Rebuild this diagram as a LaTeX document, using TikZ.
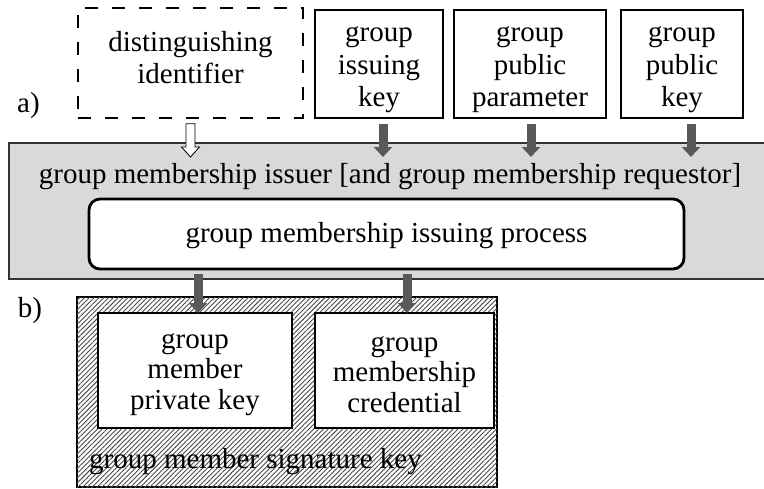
\documentclass[tikz,border=0pt]{standalone}
\usepackage{fontspec}
\setmainfont{Liberation Serif}
\usetikzlibrary{arrows.meta,patterns.meta,calc}
\definecolor{boxgray}{HTML}{D9D9D9}
\definecolor{arrowgray}{HTML}{595959}
\definecolor{hatchgray}{HTML}{4A4A4A}
\tikzset{
  txt/.style={font=\fontsize{29}{32.5}\selectfont, align=center, inner sep=0pt},
  plainbox/.style={draw=black, line width=1.3pt, fill=white, inner sep=0pt},
  dbox/.style={draw=black, line width=1.3pt, dash pattern=on 13pt off 14pt, inner sep=0pt},
  graybox/.style={draw=black!80, line width=1.2pt, fill=boxgray, inner sep=0pt},
  procbox/.style={draw=black, line width=2.8pt, fill=white, rounded corners=11pt, inner sep=0pt,
    align=center, font=\fontsize{29}{32.5}\selectfont},
  hatchbox/.style={draw=black, line width=1.3pt, fill=white, inner sep=0pt,
    postaction={pattern={Lines[angle=45,distance=3.4pt,line width=0.9pt]}, pattern color=hatchgray}},
  garrow/.style={draw=arrowgray, line width=9pt, -{Triangle[width=18pt,length=10pt]}},
  warrow/.style={draw=black, line width=0.8pt, fill=white, line join=miter},
}
\begin{document}
\begin{tikzpicture}[x=1pt,y=-1pt]
\useasboundingbox (0,0) rectangle (764,488);

% top row
\node[dbox, minimum width=225pt, minimum height=110pt] (dist) at (190.5,63) {};
\node[txt] (distt) at (190.5,57.5) {distinguishing\\identifier};
\node[plainbox, minimum width=128pt, minimum height=108pt] (gik) at (379,64) {};
\node[txt] (gikt) at ([yshift=-6pt]gik.center) {group\\issuing\\key};
\node[plainbox, minimum width=152pt, minimum height=108pt] (gpp) at (530,64) {};
\node[txt] (gppt) at ([yshift=-6pt]gpp.center) {group\\public\\parameter};
\node[plainbox, minimum width=122pt, minimum height=108pt] (gpk) at (682,64) {};
\node[txt] (gpkt) at ([yshift=-6pt]gpk.center) {group\\public\\key};
\node[txt] (la) at (28.5,106) {a)};

% issuer
\node[graybox, minimum width=759pt, minimum height=136pt] (issuer) at (388.5,211) {};
\node[txt] (issuert) at (390,177) {group membership issuer [and group membership requestor]};
\node[procbox, minimum width=595pt, minimum height=70pt] (proc) at (386.5,234) {};
\node[txt] (proct) at ([yshift=-1.5pt]proc.center) {group membership issuing process};

% signature key
\node[txt] (lb) at (30,311) {b)};
\node[hatchbox, minimum width=420pt, minimum height=190pt] (sig) at (287,392) {};
\node[plainbox, minimum width=194pt, minimum height=115pt] (mpk) at (195,370.5) {};
\node[txt, font=\fontsize{29}{30.5}\selectfont] (mpkt) at ([yshift=-4pt]mpk.center) {group\\member\\private key};
\node[plainbox, minimum width=179pt, minimum height=115pt] (cred) at (404.5,370.5) {};
\node[txt, font=\fontsize{29}{30.5}\selectfont] (credt) at ([yshift=-4pt]cred.center) {group\\membership\\credential};
\node[txt, anchor=west] (sigt) at (89,462) {group member signature key};

% arrows top
\coordinate (e1) at (383,157);
\coordinate (e2) at (531,157);
\coordinate (e3) at (691,157);
\draw[garrow] ([yshift=-5pt]gik.south -| e1) -- (e1);
\draw[garrow] ([yshift=-5pt]gpp.south -| e2) -- (e2);
\draw[garrow] ([yshift=-5pt]gpk.south -| e3) -- (e3);

% white arrow
\coordinate (ws) at ([yshift=-5pt]dist.south);
\coordinate (we) at (190.5,157);
\draw[warrow] ($(ws)+(-4.5,0)$) -- ($(we)+(-4.5,-10)$) -- ($(we)+(-9,-10)$) -- (we)
  -- ($(we)+(9,-10)$) -- ($(we)+(4.5,-10)$) -- ($(ws)+(4.5,0)$) -- cycle;

% arrows bottom
\coordinate (e4) at (198,313);
\coordinate (e5) at (407,313);
\draw[garrow] ([yshift=-4pt]proc.south -| e4) -- (e4);
\draw[garrow] ([yshift=-4pt]proc.south -| e5) -- (e5);
\end{tikzpicture}
\end{document}
